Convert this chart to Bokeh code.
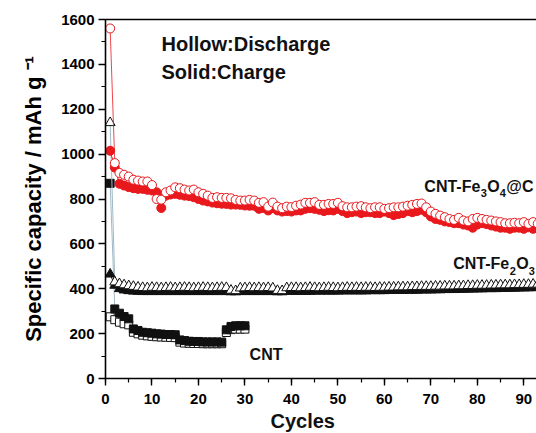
from bokeh.plotting import figure
from bokeh.models import Label, LinearAxis, Range1d, SingleIntervalTicker, FixedTicker, Title
from bokeh.embed import file_html
from bokeh.resources import INLINE

# ---------------- data ----------------
cycles_long = list(range(1, 94))
cycles_cnt = list(range(1, 31))

fe3o4_discharge = [1560, 960, 916, 908, 900, 886, 882, 878, 878, 862,
                   800, 797, 830, 838, 852, 848, 842, 838, 842, 830,
                   823, 815, 805, 808, 805, 805, 803, 796, 793, 793,
                   796, 793, 783, 786, 766, 784, 766, 759, 766, 764,
                   770, 775, 783, 783, 786, 774, 774, 778, 778, 783,
                   768, 763, 763, 766, 768, 763, 759, 763, 763, 756,
                   759, 763, 763, 766, 770, 774, 778, 780, 763, 744,
                   734, 726, 719, 711, 707, 716, 704, 700, 711, 716,
                   711, 707, 704, 700, 697, 692, 692, 694, 692, 697,
                   689, 697, 690]
fe3o4_charge = [1015, 940, 868, 860, 853, 848, 845, 845, 841, 838,
                830, 760, 815, 820, 823, 819, 815, 813, 808, 800,
                793, 789, 784, 781, 779, 778, 775, 775, 774, 771,
                770, 770, 756, 760, 749, 759, 749, 744, 746, 744,
                749, 749, 756, 759, 756, 752, 746, 750, 749, 756,
                746, 737, 741, 744, 737, 741, 741, 737, 737, 744,
                737, 728, 733, 737, 746, 741, 746, 752, 741, 722,
                711, 707, 700, 697, 692, 692, 686, 682, 672, 686,
                692, 688, 682, 677, 672, 672, 667, 672, 672, 667,
                674, 667, 670]
fe2o3_discharge = [1140, 430, 422, 417, 413, 410, 407, 405, 404, 406,
                   405, 404, 405, 406, 404, 405, 406, 405, 404, 405,
                   406, 405, 404, 405, 406, 405, 393, 391, 403, 404,
                   405, 404, 405, 404, 405, 403, 392, 391, 404, 405,
                   405, 404, 405, 406, 405, 404, 405, 406, 405, 404,
                   405, 406, 405, 406, 405, 406, 406, 405, 406, 406,
                   407, 407, 408, 408, 408, 409, 409, 410, 410, 410,
                   411, 411, 412, 412, 412, 413, 413, 414, 414, 415,
                   415, 415, 416, 416, 417, 417, 417, 418, 418, 419,
                   419, 420, 420]
fe2o3_charge = [465, 415, 400, 394, 391, 389, 388, 387, 387, 387,
                387, 387, 387, 387, 387, 387, 387, 387, 387, 387,
                387, 387, 387, 387, 387, 387, 386, 386, 387, 387,
                387, 387, 387, 387, 387, 387, 386, 386, 388, 388,
                388, 388, 388, 388, 389, 389, 389, 389, 389, 389,
                390, 390, 390, 390, 390, 390, 391, 391, 391, 391,
                392, 392, 392, 392, 393, 393, 393, 394, 394, 394,
                395, 395, 396, 396, 396, 397, 397, 398, 398, 399,
                399, 400, 400, 400, 401, 401, 402, 402, 403, 403,
                404, 404, 405]
cnt_discharge = [275, 262, 251, 244, 239, 206, 199, 193, 190, 188,
                 186, 185, 184, 183, 182, 162, 158, 157, 156, 156,
                 155, 155, 155, 155, 155, 205, 218, 220, 220, 220]
cnt_charge = [870, 310, 291, 276, 266, 221, 214, 206, 204, 202,
              199, 198, 196, 196, 195, 172, 169, 166, 165, 165,
              163, 163, 163, 163, 162, 217, 232, 235, 235, 235]

RED = "#e8181c"
BLK = "#111111"
THIN = "#9fb9c6"
FONT = "Liberation Sans"

p = figure(width=536, height=433, x_range=Range1d(0, 92.73), y_range=Range1d(0, 1600),
           output_backend="svg", toolbar_location=None,
           min_border_left=105, min_border_right=0, min_border_top=19, min_border_bottom=55)
p.xgrid.visible = False
p.ygrid.visible = False
p.outline_line_color = None
p.background_fill_color = "white"
p.border_fill_color = "white"

for ax in (p.xaxis[0], p.yaxis[0]):
    ax.axis_line_color = "black"
    ax.axis_line_width = 1.6
    ax.major_tick_line_color = "black"
    ax.minor_tick_line_color = "black"
    ax.major_tick_line_width = 1.4
    ax.minor_tick_line_width = 1.2
    ax.major_tick_in = 0
    ax.minor_tick_in = 0
    ax.major_tick_out = 7
    ax.minor_tick_out = 4
    ax.major_label_text_font = FONT
    ax.major_label_text_font_style = "bold"
    ax.major_label_text_font_size = "15px"
    ax.major_label_text_color = "black"

p.xaxis[0].ticker = SingleIntervalTicker(interval=10, num_minor_ticks=2)
p.yaxis[0].ticker = SingleIntervalTicker(interval=200, num_minor_ticks=2)
p.xaxis[0].major_label_standoff = 8
p.yaxis[0].major_label_standoff = 4

p.yaxis[0].axis_label = "Specific capacity / mAh g \u207b\u00b9"
p.yaxis[0].axis_label_text_font = FONT
p.yaxis[0].axis_label_text_font_style = "bold"
p.yaxis[0].axis_label_text_font_size = "22px"
p.yaxis[0].axis_label_text_color = "black"
p.yaxis[0].axis_label_standoff = 12

top = LinearAxis(axis_line_color="black", axis_line_width=1.4,
                 ticker=FixedTicker(ticks=[]),
                 major_tick_line_color=None, minor_tick_line_color=None)
p.add_layout(top, "above")

p.add_layout(Title(text="Cycles", align="left", offset=165, standoff=2,
                   text_font=FONT, text_font_style="bold", text_font_size="20px",
                   text_color=BLK), "below")

# ---------------- series ----------------
# CNT
p.line(cycles_cnt, cnt_discharge, line_color=THIN, line_width=1)
p.line(cycles_cnt, cnt_charge, line_color=THIN, line_width=1)
p.scatter(cycles_cnt, cnt_discharge, marker="square", size=8, fill_color="white",
          line_color=BLK, line_width=1)
p.scatter(cycles_cnt, cnt_charge, marker="square", size=8, fill_color=BLK, line_color=BLK)

# CNT-Fe2O3
p.line(cycles_long, fe2o3_charge, line_color=BLK, line_width=1)
p.line(cycles_long, fe2o3_discharge, line_color=THIN, line_width=1)
p.scatter(cycles_long, fe2o3_charge, marker="triangle", size=10, fill_color=BLK, line_color=BLK)
p.scatter(cycles_long, fe2o3_discharge, marker="triangle", size=10, fill_color="white",
          line_color=BLK, line_width=1)

# CNT-Fe3O4@C
p.line(cycles_long, fe3o4_charge, line_color=RED, line_width=1)
p.line(cycles_long, fe3o4_discharge, line_color=RED, line_width=0.8)
p.scatter(cycles_long, fe3o4_charge, marker="circle", size=9, fill_color=RED, line_color=RED)
p.scatter(cycles_long, fe3o4_discharge, marker="circle", size=9, fill_color="white",
          line_color=RED, line_width=1)

# ---------------- annotations ----------------
def lab(x, y, text, size, xo=0, yo=0):
    p.add_layout(Label(x=x, y=y, text=text, x_offset=xo, y_offset=yo,
                       text_font=FONT, text_font_style="bold", text_font_size=size,
                       text_color=BLK, text_align="left", text_baseline="alphabetic"))

lab(12.05, 1493, "Hollow:Discharge", "20px")
lab(12.05, 1368, "Solid:Charge", "20px")

# CNT-Fe3O4@C
x0, y0 = 68.6, 857
lab(x0, y0, "CNT-Fe", "16px")
lab(x0, y0, "3", "11px", xo=56.5, yo=-7)
lab(x0, y0, "O", "16px", xo=63)
lab(x0, y0, "4", "11px", xo=75.5, yo=-7)
lab(x0, y0, "@C", "16px", xo=82)

# CNT-Fe2O3
x1, y1 = 74.8, 512
lab(x1, y1, "CNT-Fe", "16px")
lab(x1, y1, "2", "11px", xo=56.5, yo=-7)
lab(x1, y1, "O", "16px", xo=63)
lab(x1, y1, "3", "11px", xo=75.5, yo=-7)

lab(31.0, 107, "CNT", "16px")

open("out.html", "w").write(file_html(p, INLINE))
